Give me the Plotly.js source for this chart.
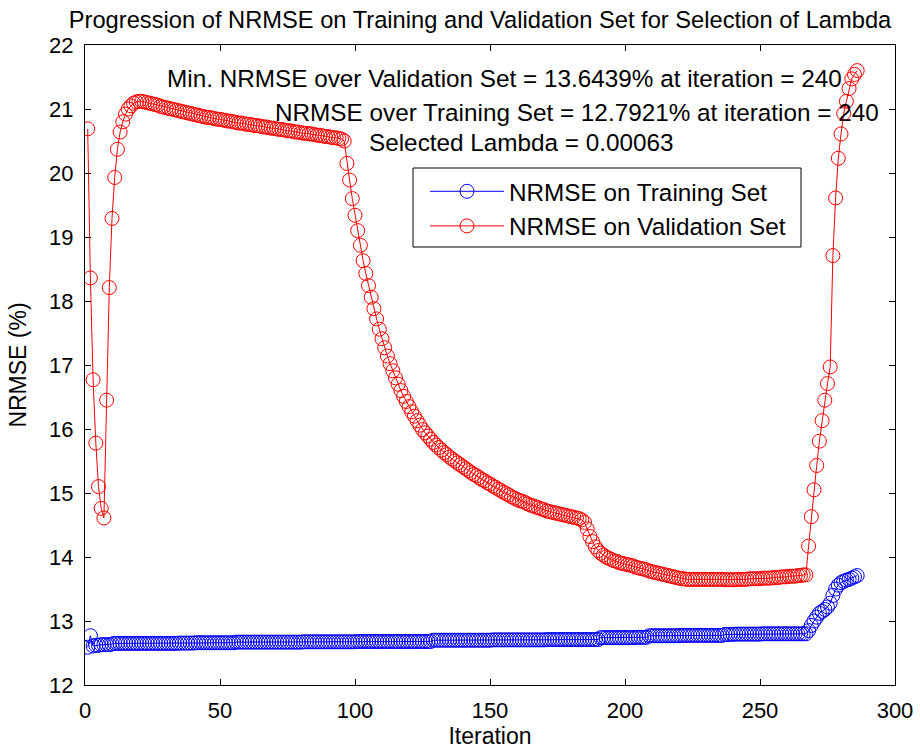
<!DOCTYPE html>
<html>
<head>
<meta charset="utf-8">
<script src="https://cdn.plot.ly/plotly-3.0.1.min.js"></script>
<style>html,body{margin:0;padding:0;background:#fff;}#chart{width:920px;height:751px;}</style>
</head>
<body>
<div id="chart"></div>
<script>
const iterations = [
1,2,3,4,5,6,7,8,9,10,11,12,13,14,15,16,17,18,19,20,
21,22,23,24,25,26,27,28,29,30,31,32,33,34,35,36,37,38,39,40,
41,42,43,44,45,46,47,48,49,50,51,52,53,54,55,56,57,58,59,60,
61,62,63,64,65,66,67,68,69,70,71,72,73,74,75,76,77,78,79,80,
81,82,83,84,85,86,87,88,89,90,91,92,93,94,95,96,97,98,99,100,
101,102,103,104,105,106,107,108,109,110,111,112,113,114,115,116,117,118,119,120,
121,122,123,124,125,126,127,128,129,130,131,132,133,134,135,136,137,138,139,140,
141,142,143,144,145,146,147,148,149,150,151,152,153,154,155,156,157,158,159,160,
161,162,163,164,165,166,167,168,169,170,171,172,173,174,175,176,177,178,179,180,
181,182,183,184,185,186,187,188,189,190,191,192,193,194,195,196,197,198,199,200,
201,202,203,204,205,206,207,208,209,210,211,212,213,214,215,216,217,218,219,220,
221,222,223,224,225,226,227,228,229,230,231,232,233,234,235,236,237,238,239,240,
241,242,243,244,245,246,247,248,249,250,251,252,253,254,255,256,257,258,259,260,
261,262,263,264,265,266,267,268,269,270,271,272,273,274,275,276,277,278,279,280,
281,282,283,284,285,286];

const trainingNRMSE = [
12.59,12.77,12.61,12.62,12.62,12.63,12.63,12.63,12.63,12.64,
12.65,12.65,12.65,12.65,12.65,12.65,12.65,12.65,12.65,12.65,
12.65,12.65,12.65,12.65,12.65,12.65,12.65,12.65,12.65,12.65,
12.65,12.65,12.65,12.65,12.655,12.655,12.655,12.655,12.655,12.655,
12.66,12.66,12.66,12.66,12.66,12.66,12.66,12.66,12.66,12.66,
12.66,12.66,12.66,12.66,12.66,12.67,12.67,12.67,12.67,12.67,
12.67,12.67,12.67,12.67,12.67,12.67,12.67,12.67,12.67,12.67,
12.67,12.67,12.67,12.67,12.67,12.67,12.67,12.67,12.67,12.67,
12.675,12.675,12.675,12.675,12.675,12.675,12.675,12.675,12.675,12.675,
12.675,12.675,12.675,12.675,12.675,12.675,12.675,12.675,12.675,12.675,
12.68,12.68,12.68,12.68,12.68,12.68,12.68,12.68,12.68,12.68,
12.68,12.68,12.68,12.68,12.68,12.68,12.68,12.68,12.68,12.68,
12.68,12.68,12.68,12.68,12.68,12.68,12.68,12.68,12.70,12.70,
12.70,12.70,12.70,12.70,12.70,12.70,12.70,12.70,12.70,12.70,
12.70,12.70,12.70,12.70,12.70,12.70,12.70,12.70,12.70,12.70,
12.705,12.705,12.705,12.705,12.705,12.705,12.705,12.705,12.705,12.705,
12.705,12.705,12.705,12.705,12.705,12.705,12.705,12.705,12.705,12.705,
12.71,12.71,12.71,12.71,12.71,12.71,12.71,12.71,12.71,12.71,
12.71,12.71,12.71,12.71,12.71,12.71,12.71,12.71,12.71,12.71,
12.74,12.74,12.74,12.74,12.74,12.74,12.74,12.74,12.74,12.74,
12.74,12.74,12.74,12.745,12.745,12.745,12.745,12.745,12.77,12.77,
12.77,12.77,12.77,12.77,12.77,12.77,12.77,12.77,12.77,12.77,
12.775,12.775,12.775,12.775,12.775,12.775,12.775,12.775,12.775,12.775,
12.775,12.775,12.775,12.775,12.775,12.775,12.79,12.79,12.79,12.7921,
12.795,12.795,12.795,12.795,12.795,12.795,12.795,12.795,12.795,12.795,
12.80,12.80,12.80,12.80,12.80,12.80,12.80,12.80,12.80,12.80,
12.80,12.80,12.80,12.80,12.80,12.80,12.80,12.85,12.93,13.00,
13.06,13.12,13.15,13.18,13.22,13.28,13.40,13.50,13.56,13.60,
13.62,13.64,13.65,13.67,13.69,13.71];

const validationNRMSE = [
20.69,18.36,16.77,15.78,15.10,14.76,14.61,16.45,18.21,19.29,
19.93,20.37,20.64,20.80,20.92,21.00,21.05,21.09,21.11,21.12,
21.12,21.11,21.10,21.09,21.08,21.07,21.06,21.04,21.03,21.02,
21.01,21.00,20.99,20.98,20.97,20.96,20.95,20.94,20.93,20.92,
20.91,20.90,20.89,20.88,20.87,20.87,20.86,20.85,20.84,20.84,
20.83,20.82,20.81,20.81,20.80,20.79,20.78,20.78,20.77,20.76,
20.76,20.75,20.74,20.74,20.73,20.72,20.72,20.71,20.70,20.70,
20.69,20.68,20.68,20.67,20.66,20.66,20.65,20.64,20.64,20.63,
20.62,20.62,20.61,20.61,20.60,20.59,20.59,20.58,20.57,20.57,
20.56,20.55,20.55,20.54,20.53,20.50,20.15,19.89,19.60,19.34,
19.10,18.87,18.63,18.43,18.24,18.06,17.88,17.72,17.56,17.41,
17.27,17.14,17.02,16.91,16.80,16.70,16.60,16.51,16.43,16.35,
16.27,16.20,16.13,16.06,15.99,15.94,15.89,15.84,15.79,15.75,
15.71,15.67,15.63,15.60,15.56,15.53,15.50,15.47,15.44,15.41,
15.38,15.35,15.32,15.29,15.27,15.24,15.21,15.19,15.16,15.14,
15.11,15.09,15.06,15.04,15.01,14.99,14.97,14.94,14.92,14.90,
14.88,14.87,14.85,14.83,14.81,14.80,14.78,14.77,14.75,14.74,
14.72,14.71,14.70,14.69,14.68,14.67,14.66,14.65,14.64,14.63,
14.62,14.61,14.60,14.58,14.54,14.44,14.32,14.24,14.16,14.10,
14.06,14.03,14.00,13.98,13.96,13.94,13.93,13.91,13.90,13.89,
13.88,13.87,13.86,13.84,13.83,13.82,13.81,13.80,13.78,13.77,
13.76,13.75,13.74,13.73,13.72,13.71,13.70,13.69,13.68,13.67,
13.66,13.66,13.65,13.65,13.65,13.65,13.65,13.65,13.65,13.65,
13.65,13.65,13.65,13.65,13.65,13.65,13.645,13.645,13.645,13.6439,
13.645,13.65,13.65,13.65,13.65,13.66,13.66,13.66,13.66,13.66,
13.67,13.67,13.67,13.67,13.68,13.68,13.68,13.69,13.69,13.69,
13.70,13.70,13.70,13.71,13.71,13.72,13.72,14.17,14.63,15.05,
15.43,15.81,16.13,16.45,16.71,16.97,18.71,19.61,20.23,20.61,
20.93,21.12,21.32,21.47,21.54,21.60];

const seriesNames = ['NRMSE on Training Set', 'NRMSE on Validation Set'];
const titleText = 'Progression of NRMSE on Training and Validation Set for Selection of Lambda';
const infoLines = [
  'Min. NRMSE over Validation Set = 13.6439% at iteration = 240',
  'NRMSE over Training Set = 12.7921% at iteration = 240',
  'Selected Lambda = 0.00063'
];
const xTicks = [0, 50, 100, 150, 200, 250, 300];
const yTicks = [12, 13, 14, 15, 16, 17, 18, 19, 20, 21, 22];

const FONT = 'Arial, "Liberation Sans", sans-serif';

function series(y, name, color) {
  return {
    x: iterations, y: y, name: name, type: 'scatter', mode: 'lines+markers',
    line: {color: color, width: 1},
    marker: {symbol: 'circle-open', size: 14, color: color, line: {width: 1, color: color}}
  };
}

const data = [
  series(trainingNRMSE, seriesNames[0], '#0000ff'),
  series(validationNRMSE, seriesNames[1], '#ff0000')
];

const axisCommon = {
  showgrid: false, zeroline: false, showline: true, linecolor: '#000', linewidth: 1,
  mirror: 'ticks', ticks: 'inside', ticklen: 6, tickcolor: '#000', tickwidth: 1,
  tickfont: {family: FONT, size: 22, color: '#000'}
};

const infoFont = {family: FONT, size: 24.3, color: '#000'};

const layout = {
  width: 920, height: 751,
  paper_bgcolor: '#fff', plot_bgcolor: '#fff',
  margin: {l: 85, r: 25, t: 45, b: 66},
  font: {family: FONT, color: '#000'},
  title: {text: titleText, font: {family: FONT, size: 23.7, color: '#000'},
          x: 480 / 920, xref: 'container', xanchor: 'center', y: 1 - 20 / 751, yref: 'container', yanchor: 'middle'},
  xaxis: Object.assign({}, axisCommon, {
    range: [0, 300], tickvals: xTicks, ticktext: xTicks.map(String), ticklabelstandoff: 6,
    title: {text: 'Iteration', font: {family: FONT, size: 23, color: '#000'}, standoff: 5}
  }),
  yaxis: Object.assign({}, axisCommon, {
    range: [12, 22], tickvals: yTicks, ticktext: yTicks.map(String), ticklabelstandoff: 6,
    title: {text: 'NRMSE (%)', font: {family: FONT, size: 23, color: '#000'}, standoff: 16}
  }),
  showlegend: true,
  legend: {
    x: (425 - 85) / 810, y: (685 - 169) / 640, xanchor: 'left', yanchor: 'top',
    xref: 'paper', yref: 'paper',
    bgcolor: 'rgba(0,0,0,0)', borderwidth: 0, itemwidth: 74,
    font: {family: FONT, size: 24.3, color: '#000'}, tracegroupgap: 0
  },
  shapes: [{
    type: 'rect', xref: 'paper', yref: 'paper', layer: 'below',
    x0: (413 - 85) / 810, x1: (801 - 85) / 810, y0: (685 - 247) / 640, y1: (685 - 168) / 640,
    line: {color: '#000', width: 1}, fillcolor: '#fff'
  }],
  annotations: [
    {text: infoLines[0], xref: 'paper', yref: 'paper', x: (165 - 85) / 810, y: (685 - 79) / 640, xanchor: 'left', yanchor: 'middle', showarrow: false, font: infoFont},
    {text: infoLines[1], xref: 'paper', yref: 'paper', x: (273 - 85) / 810, y: (685 - 112) / 640, xanchor: 'left', yanchor: 'middle', showarrow: false, font: infoFont},
    {text: infoLines[2], xref: 'paper', yref: 'paper', x: (367 - 85) / 810, y: (685 - 143) / 640, xanchor: 'left', yanchor: 'middle', showarrow: false, font: infoFont}
  ]
};

Plotly.newPlot('chart', data, layout, {displayModeBar: false, staticPlot: true});
</script>
</body>
</html>
